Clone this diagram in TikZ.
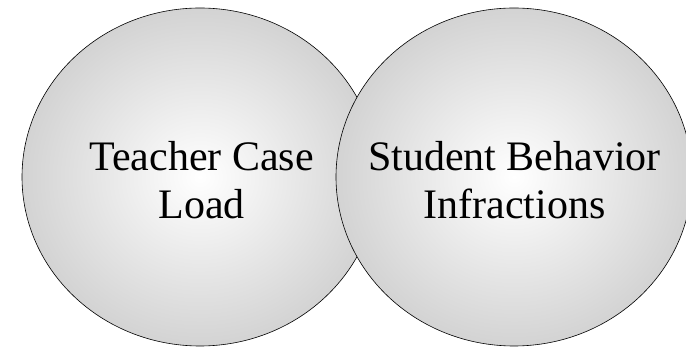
\documentclass[tikz,border=0pt]{standalone}
\usepackage{fontspec}
\setmainfont{Liberation Serif}
\usetikzlibrary{shapes.geometric}
\definecolor{vennedge}{RGB}{211,211,211}
\tikzset{
  venn-ellipse/.style={
    ellipse,
    draw=black,
    line width=0.6pt,
    minimum width=356pt,
    minimum height=338pt,
    inner sep=0pt,
    shading=radial,
    inner color=white,
    outer color=vennedge
  },
  venn-label/.style={
    align=center,
    inner sep=0pt,
    font={\fontsize{42}{47.3}\selectfont}
  }
}

\begin{document}
\begin{tikzpicture}[x=1pt, y=1pt]
  \useasboundingbox (0,0) rectangle (686,348);
  % Ellipses
  \node[venn-ellipse] (caseload) at (200,171) {};
  \node[venn-ellipse] (behavior) at (514,171) {};
  % Labels
  \node[venn-label] (caseload-text) at (201.7,168) {Teacher Case\\Load};
  \node[venn-label] (behavior-text) at (514.4,168) {Student Behavior\\Infractions};
\end{tikzpicture}
\end{document}
